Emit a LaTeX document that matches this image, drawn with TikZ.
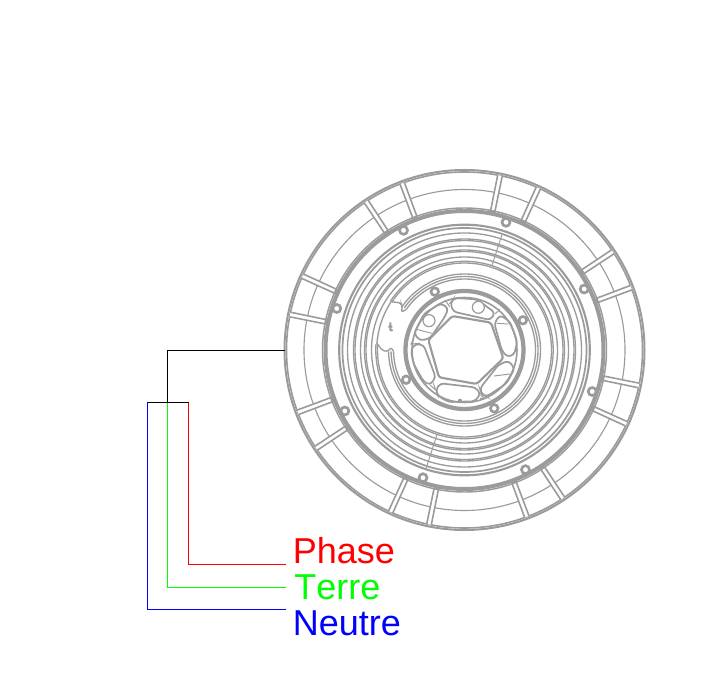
\documentclass[tikz,border=0pt]{standalone}
\usepackage{fontspec}
\setmainfont[Kerning=Off]{Liberation Sans}
\definecolor{part}{RGB}{155,155,155}
\tikzset{
  ringline/.style={draw=part,line width=1pt},
  pocket/.style={draw=part,line width=1.3pt,rounded corners=2.6pt},
  crossline/.style={draw=part,line width=0.7pt},
  boltring/.style={draw=part,fill=white,line width=2pt},
  spokeline/.style={draw=part,fill=white,line width=1.2pt,line join=round},
  wire/.style={line width=0.8pt},
  colourwire/.style={line width=0.9pt},
  labeltext/.style={font=\fontsize{27}{30}\selectfont,anchor=base west,inner sep=0pt}
}
\begin{document}
\begin{tikzpicture}[x=.75pt,y=-.75pt]
\useasboundingbox (0,0) rectangle (725,698);
\begin{scope}[shift={(464.5,350)},y=.75pt]
  % outer rim
  \draw[ringline,line width=1.5pt] (0,0) circle[radius=180];
  \draw[ringline,line width=1.2pt] (0,0) circle[radius=178];
  \draw[ringline,line width=0.85pt] (0,0) circle[radius=160.5];
  % spokes
  \foreach \c in {27,72,117,162,207,252,297,342}{
    \foreach \s in {-6.5,6.5}{
      \pgfmathsetmacro{\a}{\c+\s}
      \path[spokeline] ({\a-0.75}:178) -- ({\a-0.9}:141) -- ({\a+0.9}:141) -- ({\a+0.75}:178);
    }
  }
  % heavy rim
  \draw[ringline,line width=1.1pt] (0,0) circle[radius=142];
  \draw[ringline,line width=3pt] (0,0) circle[radius=139];
  % concentric rings
  \foreach \r in {87,88.7,93,98.5,100,104,109.5,111,117}{
    \draw[ringline] (0,0) circle[radius=\r];
  }
  \draw[ringline,line width=1.3pt] (0,0) circle[radius=122];
  \draw[ringline,line width=1.6pt] (0,0) circle[radius=125.3];
  % radial marks
  \draw[ringline,line width=0.7pt] (72:89) -- (72:122);
  \draw[ringline,line width=0.7pt] (252:88) -- (252:124);
  % stepped inner ring
  \fill[white] (147:89.8) -- (147:80) -- (176:80) -- (176:89.8) arc[start angle=176,end angle=147,radius=89.8];
  \foreach \r in {71,73.5,76}{
    \draw[ringline] (145:\r) arc[start angle=145,end angle=-179,radius=\r];
  }
  \draw[ringline,rounded corners=1.5pt] (146.5:87.5) -- (143.5:79) -- (145:76) -- (149:73.5) -- (145:71);
  \draw[ringline,rounded corners=1.5pt] (175.5:88) -- (180.5:82) -- (181:76) -- (178:73.5) -- (181:71);
  \draw[ringline] (147:87.8) arc[start angle=147,end angle=176,radius=87.8];
  % outer bolts
  \foreach \c in {27,72,117,162,207,252,297,342}{
    \draw[boltring] (\c:134.3) circle[radius=4];
  }
  % inner rings
  \draw[ringline,line width=3.2pt] (0,0) circle[radius=59];
  \draw[ringline,line width=1.2pt] (0,0) circle[radius=52.5];
  % inner bolts
  \foreach \c in {27,117,207,297}{
    \draw[boltring] (\c:65.5) circle[radius=3.8];
  }
\end{scope}
% hub, in the coordinates of a 3x enlargement
\begin{scope}[shift={(365,270)},x=.25pt,y=-.25pt]
  \draw[part,line width=1.6pt,rounded corners=2pt] (262,138) -- (378,158) -- (415,265) -- (335,342) -- (222,322) -- (190,210) -- cycle;
  \draw[pocket] (256,100) -- (268,84) -- (335,88) -- (390,128) -- (376,150) -- (265,125) -- cycle;
  \draw[pocket] (147,190) -- (178,130) -- (228,100) -- (250,115) -- (240,140) -- (195,205) -- (165,212) -- cycle;
  \draw[pocket] (138,240) -- (150,222) -- (176,225) -- (212,322) -- (195,345) -- (176,335) -- (145,280) -- cycle;
  \draw[pocket] (212,360) -- (226,340) -- (330,352) -- (347,370) -- (330,394) -- (250,396) -- (220,378) -- cycle;
  \draw[pocket] (345,355) -- (400,285) -- (430,272) -- (449,295) -- (425,340) -- (365,380) -- (350,372) -- cycle;
  \draw[pocket] (388,160) -- (405,135) -- (435,155) -- (457,215) -- (447,255) -- (425,260) -- (410,240) -- cycle;
  \draw[part,line width=0.9pt,fill=white] (340,112) circle[radius=18];
  \draw[part,line width=0.9pt,fill=white] (192,152) circle[radius=18];
  \draw[crossline] (155,178) -- (200,190);
  \draw[crossline] (396,160) -- (430,162);
  \draw[crossline] (387,318) -- (435,312);
  \draw[crossline] (254,110) -- (240,90);
  \draw[crossline] (146,205) -- (138,222) -- (165,220);
  \draw[crossline] (195,345) -- (212,360) -- (205,340);
  \draw[crossline] (347,375) -- (360,385) -- (345,385);
  \draw[crossline] (390,132) -- (405,118);
  % small key mark
  \draw[part,line width=1.5pt] (70,170) -- (82,170) (76,157) -- (76,182) (76,182) -- (83,180);
  % small marks at the bottom of the hub
  \fill[part] (285,392) circle[radius=6];
  \draw[part,line width=1.2pt] (280,398) -- (325,398);
\end{scope}
% labels and wires
\node[labeltext,text=red] (phase) at (292.5,563.5) {Phase};
\node[labeltext,text=green] (terre) at (294,599) {Terre};
\node[labeltext,text=blue] (neutre) at (292.5,635) {Neutre};
\coordinate (entry) at (284.5,350.5);
\coordinate (bus) at (167.5,402.5);
\coordinate (busL) at (147.5,402.5);
\coordinate (busR) at (188.5,402.5);
\coordinate (endP) at (286,564.5);
\coordinate (endT) at (286,587.5);
\coordinate (endN) at (286,609.5);
\draw[colourwire,color=red] (busR) |- (endP);
\draw[colourwire,color=green] (bus) |- (endT);
\draw[colourwire,color=blue] (busL) |- (endN);
\draw[wire,color=black] (entry) -| (bus);
\draw[wire,color=black] (busL) -- (busR);
\end{tikzpicture}
\end{document}
